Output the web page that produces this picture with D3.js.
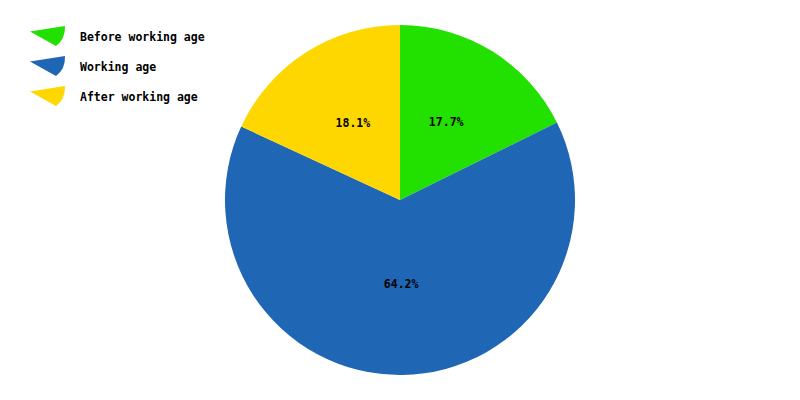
<!DOCTYPE html>
<html>
<head>
<meta charset="utf-8">
<script src="https://cdn.jsdelivr.net/npm/d3@7"></script>
<style>
html,body{margin:0;padding:0;background:#fff;}
svg text{font-family:"DejaVu Sans Mono",monospace;font-weight:bold;font-size:11.5px;fill:#000;}
</style>
</head>
<body>
<svg id="chart" width="800" height="400"></svg>
<script>
const categories = ["Before working age", "Working age", "After working age"];
const values = [17.7, 64.2, 18.1];
const labels = ["17.7%", "64.2%", "18.1%"];
const colors = ["#22e000", "#1f66b4", "#ffd700"];

const svg = d3.select("#chart");
const cx = 400, cy = 200, R = 175;

const pie = d3.pie().sort(null).value(d => d)(values);
const arc = d3.arc().innerRadius(0).outerRadius(R);
const labelArc = d3.arc().innerRadius(R * 0.5).outerRadius(R * 0.5);

const g = svg.append("g").attr("transform", `translate(${cx},${cy})`);
g.selectAll("path").data(pie).join("path")
  .attr("d", arc)
  .attr("fill", (d, i) => colors[i]);

g.selectAll("text").data(pie).join("text")
  .attr("x", d => labelArc.centroid(d)[0])
  .attr("y", d => labelArc.centroid(d)[1] - 3.5)
  .attr("text-anchor", "middle")
  .attr("dominant-baseline", "central")
  .text((d, i) => labels[i]);

// legend
const leg = svg.append("g");
const rows = leg.selectAll("g").data(categories).join("g")
  .attr("transform", (d, i) => `translate(0,${i * 30})`);
rows.append("path")
  .attr("d", "M30,31.5 L65,26 Q65.5,39 56,46 Z")
  .attr("fill", (d, i) => colors[i]);
rows.append("text")
  .attr("x", 80)
  .attr("y", 37)
  .attr("dominant-baseline", "central")
  .text(d => d);
</script>
</body>
</html>
